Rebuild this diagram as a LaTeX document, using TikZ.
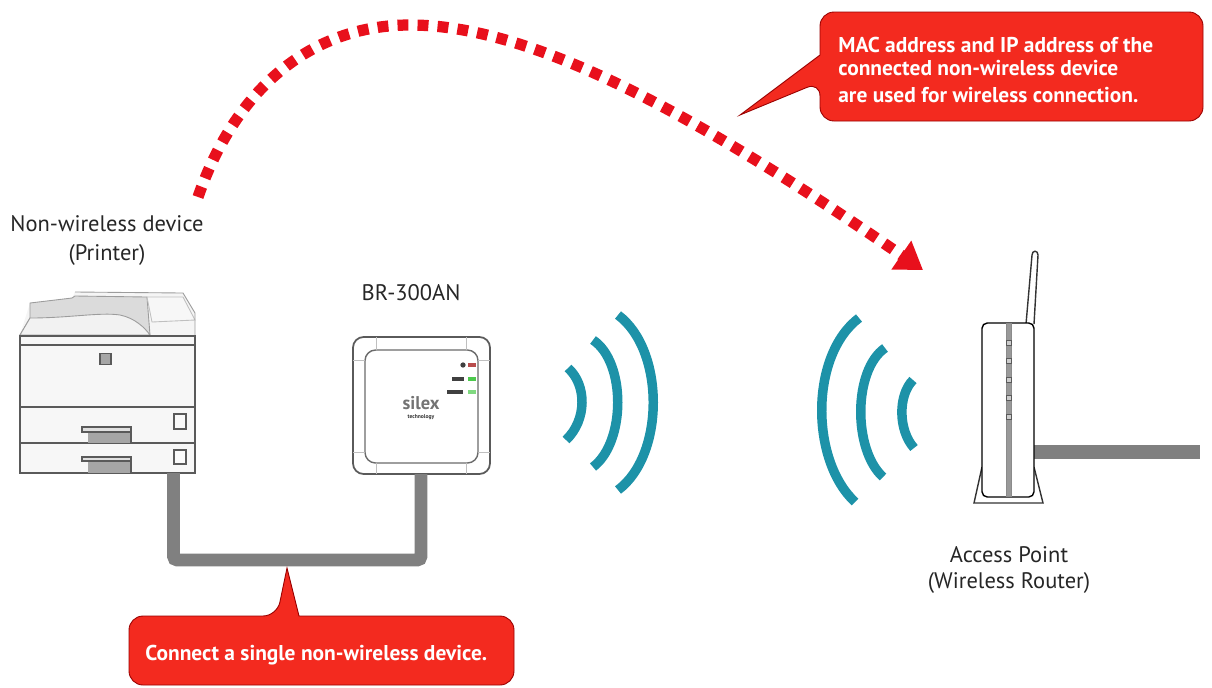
\documentclass[tikz,border=0pt]{standalone}
\usepackage{fontspec}
\setmainfont{PT Sans}
\usetikzlibrary{arrows.meta}

\definecolor{noteRed}{HTML}{F32A1F}
\definecolor{dotRed}{HTML}{E8101C}
\definecolor{cableGray}{HTML}{808080}
\definecolor{waveTeal}{HTML}{1D92A8}
\definecolor{edgeGray}{HTML}{5A5A5A}

\begin{document}
\begin{tikzpicture}[
    x=0.02cm, y=-0.02cm,
    devtext/.style={font=\fontsize{12.8}{15}\selectfont, align=center, text=black!85},
    notetext/.style={font=\fontsize{12.2}{13}\selectfont\bfseries, text=white, align=left, anchor=west, inner sep=0pt},
    notebox/.style={draw=red!60!black, line width=0.5pt, fill=noteRed},
    cable/.style={draw=cableGray, line width=7.2pt},
    wave/.style={draw=waveTeal, line width=5.4pt},
    outline/.style={draw=edgeGray, line width=0.8pt, fill=white},
    lightpart/.style={draw=edgeGray!60, line width=0.5pt, fill=black!6},
    led/.style={draw=edgeGray, line width=0.5pt, fill=#1, minimum size=3pt, inner sep=0pt},
    ledtext/.style={fill=black!75, minimum height=2pt, inner sep=0pt},
    hop/.style={draw=dotRed, line width=6.4pt, dash pattern=on 6.2pt off 5.2pt,
        -{Triangle[length=15pt, width=19pt, fill=dotRed]}}
]
\useasboundingbox (0,0) rectangle (1212,687);

% Hop from the printer to the access point
\coordinate (hopstart) at (198,197);
\coordinate (hoptop) at (410,25);
\coordinate (hopend) at (923,270);
\draw[hop] (hopstart) .. controls (235,90) and (310,25) .. (hoptop)
    .. controls (530,25) and (690,110) .. (hopend);

% Printer
\fill[black!4] (20,335) -- (30,303) -- (72,298) -- (75,292) -- (183,293) -- (195,313) -- (195,335) -- cycle;
\draw[lightpart, fill=black!14] (20,335) -- (30,318) -- (30,303) -- (72,298) -- (75,296) -- (147,297) -- (150,335) -- cycle;
\draw[lightpart, fill=black!5] (30,318) .. controls (70,318) and (100,312) .. (120,315) .. controls (135,318) and (145,328) .. (150,335) -- (20,335) -- cycle;
\draw[lightpart, fill=black!3, draw=black!25] (147,297) -- (183,297) -- (195,320) -- (152,322) -- cycle;
\draw[edgeGray!60, line width=0.5pt] (75,292) -- (183,293) -- (195,313) -- (195,335);
\node[outline, fill=black!3, minimum width=3.5cm, minimum height=2.74cm, inner sep=0pt] (printer) at (107.5,404.5) {};
\draw[edgeGray, line width=0.8pt] (20,345) -- (195,345);
\draw[edgeGray, line width=1.2pt] (20,407) -- (195,407);
\draw[edgeGray, line width=0.8pt] (20,443) -- (195,443);
\node[outline, fill=black!35, minimum size=0.22cm, inner sep=0pt] (button) at (105.5,359) {};
\foreach \name/\ytop/\yjoin in {trayA/427/432, trayB/457/461}{
    \fill[black!35] (88,\yjoin) rectangle (130,\ytop+16);
    \draw[edgeGray, line width=0.7pt, fill=black!12] (82,\ytop) rectangle (131,\yjoin);
    \draw[edgeGray, line width=0.7pt] (131,\yjoin) -- (131,\ytop+16);
}
\node[outline, fill=black!2, minimum width=0.24cm, minimum height=0.3cm, inner sep=0pt] (squareA) at (180,421.5) {};
\node[outline, fill=black!2, minimum width=0.24cm, minimum height=0.28cm, inner sep=0pt] (squareB) at (180,457) {};

% Adapter
\node[outline, draw=edgeGray, line width=1pt, rounded corners=6pt, minimum width=2.74cm, minimum height=2.74cm, inner sep=0pt] (adapter) at (421.5,405.5) {};
\node[outline, draw=edgeGray!90, rounded corners=6pt, minimum width=2.26cm, minimum height=2.26cm, inner sep=0pt] (adapterface) at (421.5,406.5) {};
\foreach \xa in {376,466}{
    \draw[black!25, line width=0.5pt] (\xa,337) -- (\xa,350);
    \draw[black!25, line width=0.5pt] (\xa,463) -- (\xa,474);
}
\foreach \ya in {360,452}{
    \draw[black!25, line width=0.5pt] (353,\ya) -- (365,\ya);
    \draw[black!25, line width=0.5pt] (478,\ya) -- (490,\ya);
}
\node[circle, fill=black!75, minimum size=3pt, inner sep=0pt] (ledpower) at (463,365) {};
\node[ledtext, minimum width=7pt] (ledtextA) at (458,379) {};
\node[ledtext, minimum width=9pt] (ledtextB) at (455,392) {};
\node[fill=red!60!black!70, minimum width=5pt, minimum height=2.4pt, inner sep=0pt] (ledred) at (472,365) {};
\node[fill=green!70!black!70, minimum width=5pt, minimum height=2.4pt, inner sep=0pt] (ledgreenA) at (472,379) {};
\node[fill=green!70!black!50, minimum width=5pt, minimum height=2.4pt, inner sep=0pt] (ledgreenB) at (472,392) {};
\node[font=\fontsize{10.5}{10.5}\selectfont\bfseries, text=black!55, inner sep=0pt, anchor=base] (logo) at (421,409) {silex};
\node[font=\fontsize{3.2}{3.2}\selectfont\bfseries, text=black!80, inner sep=0pt, anchor=base] (logosub) at (421,418) {technology};

% Cables
\coordinate (cableA) at (173.5,473);
\coordinate (cableB) at (421,474);
\draw[cable, rounded corners=2pt] (cableA) |- (297,560) -| (cableB);
\coordinate (cableC) at (1200,452);
\draw[cable, line width=8pt] (1034,452) -- (cableC);

% Waves, left
\draw[wave] (568,368) .. controls (587,385) and (587,420) .. (566,440);
\draw[wave] (593,340) .. controls (626,362) and (626,442) .. (593,467);
\draw[wave] (618,315) .. controls (665,350) and (665,455) .. (618,490);

% Waves, right
\draw[wave] (913,380) .. controls (898,395) and (898,430) .. (914,448);
\draw[wave] (885,348) .. controls (853,370) and (853,450) .. (883,477);
\draw[wave] (859,318) .. controls (810,355) and (810,460) .. (855,502);

% Router
\draw[outline, draw=black!80, line width=0.8pt] (982,467) -- (974,503) -- (1043,503) -- (1034,467);
\draw[outline, draw=black!80, line width=0.8pt] (1026,324) -- (1032,255) .. controls (1032,250) and (1038,250) .. (1038,255) -- (1034,324);
\draw[outline, draw=black, line width=0.8pt, rounded corners=3pt] (982,497) -- (982,323) -- (1034,323) -- (1034,497) -- cycle;
\node[fill=black!40, draw=edgeGray!70, line width=0.3pt, minimum width=0.1cm, minimum height=3.46cm, inner sep=0pt] (routerstripe) at (1008.5,410) {};
\foreach \ya/\name in {343/a, 361/b, 380/c, 398/d, 417/e}{
    \node[led=black!20] (led\name) at (1009,\ya) {};
}

% Labels
\node[devtext] (printerlabel) at (107,240.5) {Non-wireless device\\[1pt](Printer)};
\node[devtext] (adapterlabel) at (411,293) {BR-300AN};
\node[devtext] (routerlabel) at (1009,570) {Access Point\\[-0.5pt](Wireless Router)};

% Notes
\draw[notebox] (740,115) -- (820,55) [rounded corners=8pt] -- (820,12) -- (1203,12) -- (1203,121) -- (820,121) -- (820,82) [sharp corners] -- cycle;
\node[notetext] (macnoteA) at (838,45) {MAC address and IP address of the};
\node[notetext] (macnoteB) at (838,68) {connected non-wireless device};
\node[notetext] (macnoteC) at (838,95) {are used for wireless connection.};

\draw[notebox] (287,568) -- (299,616) [rounded corners=8pt] -- (514,616) -- (514,685) -- (129,685) -- (129,616) -- (277,616) [sharp corners] -- cycle;
\node[notetext] (singlenote) at (145,655) {Connect a single non-wireless device.};

\end{tikzpicture}
\end{document}
